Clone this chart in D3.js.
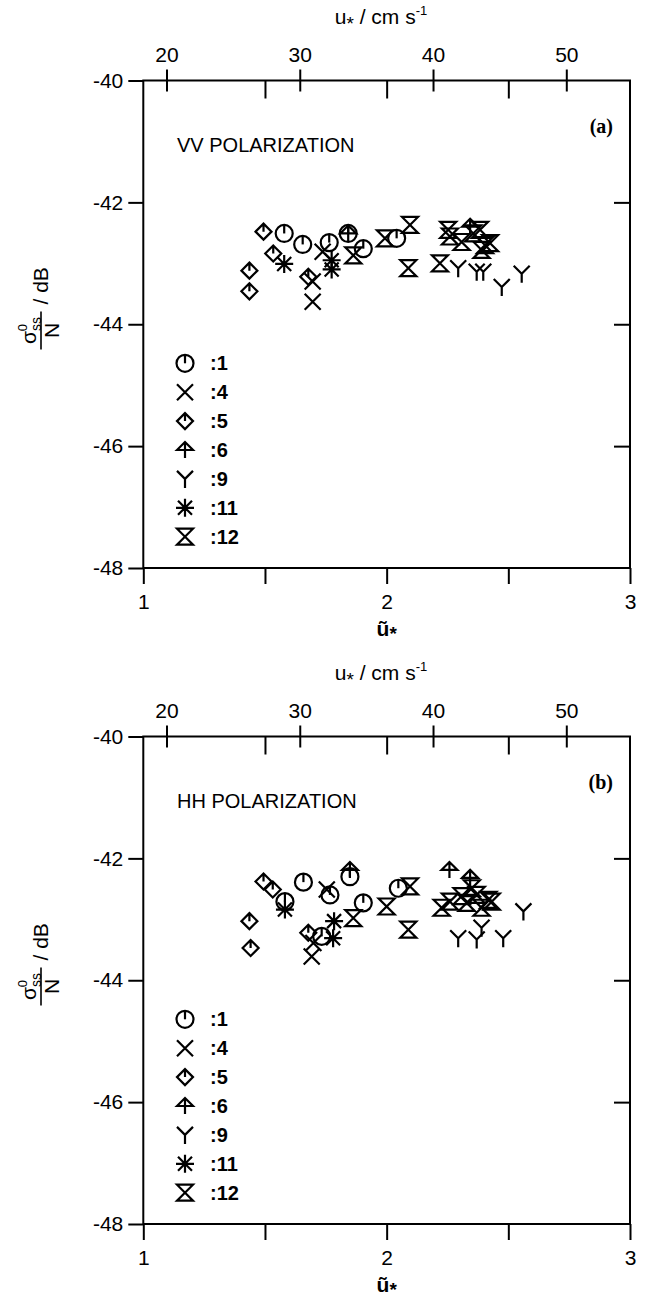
<!DOCTYPE html>
<html>
<head>
<meta charset="utf-8">
<script src="https://cdn.jsdelivr.net/npm/d3@7"></script>
<style>
  body { margin: 0; background: #fff; }
  svg text { font-family: "Liberation Sans", Arial, Helvetica, sans-serif; fill: #000; }
</style>
</head>
<body>
<svg id="chart" width="647" height="1301"></svg>
<script>
// axes
const xDomain = [1, 3];
const yDomain = [-48, -40];
const xTicks = [1, 1.5, 2, 2.5, 3];
const xTopTicks = [1.5, 2, 2.5];
const yTicks = [-40, -42, -44, -46, -48];
const yRightTicks = [-42, -44, -46];
const uStarTicks = [20, 30, 40, 50];
const uStarFactor = 18.26; // u* in cm/s for u~* = 1

// legend: symbol key, label
const legendSymbols = ["circle", "cross", "diamond", "arrow", "wye", "star", "hourglass"];
const legendLabels = [":1", ":4", ":5", ":6", ":9", ":11", ":12"];

// (a) VV polarization, [u~*, sigma/N dB]
const vvRun1 = [[1.579, -42.51], [1.655, -42.69], [1.764, -42.66], [1.842, -42.51], [1.904, -42.76], [2.041, -42.59]];
const vvRun4 = [[1.737, -42.81], [1.696, -43.30], [1.696, -43.63]];
const vvRun5 = [[1.494, -42.48], [1.534, -42.84], [1.436, -43.12], [1.436, -43.46], [1.678, -43.22]];
const vvRun6 = [[1.842, -42.51], [2.343, -42.40]];
const vvRun9 = [[2.294, -43.08], [2.370, -43.14], [2.397, -43.14], [2.473, -43.39], [2.555, -43.17]];
const vvRun11 = [[1.579, -43.01], [1.774, -42.95], [1.774, -43.10]];
const vvRun12 = [[1.863, -42.87], [1.993, -42.59], [2.096, -42.37], [2.089, -43.08], [2.219, -43.00],
  [2.253, -42.45], [2.260, -42.56], [2.308, -42.65], [2.356, -42.51], [2.384, -42.45],
  [2.404, -42.70], [2.425, -42.67], [2.390, -42.78]];

// (b) HH polarization
const hhRun1 = [[1.582, -42.71], [1.658, -42.39], [1.767, -42.60], [1.849, -42.30], [1.904, -42.73], [2.048, -42.49], [1.733, -43.28]];
const hhRun4 = [[1.754, -42.51], [1.699, -43.39], [1.692, -43.61]];
const hhRun5 = [[1.494, -42.38], [1.532, -42.51], [1.436, -43.03], [1.441, -43.47], [1.678, -43.22]];
const hhRun6 = [[1.849, -42.19], [2.258, -42.19], [2.343, -42.32]];
const hhRun9 = [[2.562, -42.87], [2.390, -43.14], [2.294, -43.31], [2.370, -43.33], [2.479, -43.31]];
const hhRun11 = [[1.582, -42.84], [1.784, -43.03], [1.780, -43.31]];
const hhRun12 = [[1.863, -42.98], [2.000, -42.79], [2.096, -42.46], [2.089, -43.17], [2.226, -42.81],
  [2.260, -42.71], [2.308, -42.62], [2.329, -42.73], [2.350, -42.49], [2.370, -42.60],
  [2.390, -42.81], [2.418, -42.68], [2.432, -42.71]];

const panels = [
  { top: 80.5, title: "VV POLARIZATION", tag: "(a)",
    series: [["circle", vvRun1], ["cross", vvRun4], ["diamond", vvRun5], ["arrow", vvRun6],
             ["wye", vvRun9], ["star", vvRun11], ["hourglass", vvRun12]] },
  { top: 736.5, title: "HH POLARIZATION", tag: "(b)",
    series: [["circle", hhRun1], ["cross", hhRun4], ["diamond", hhRun5], ["arrow", hhRun6],
             ["wye", hhRun9], ["star", hhRun11], ["hourglass", hhRun12]] }
];

const left = 143.3, right = 630, plotH = 487.5;

const symbolPaths = {
  circle: "M0,-8.5V0",
  cross: "M-8,-8L8,8M8,-8L-8,8",
  diamond: "M0,-8L8,0L0,8L-8,0ZM0,-8V0",
  arrow: "M-8,0L0,-8L8,0ZM0,-8V8",
  wye: "M0,0V9M0,0L-8,-8M0,0L8,-8",
  star: "M0,-9V9M-9,0H9M-7,-7L7,7M7,-7L-7,7",
  hourglass: "M-8,-8H8L-8,8H8Z"
};

function drawSymbol(g, type) {
  if (type === "circle") g.append("circle").attr("r", 8.5).attr("fill", "none");
  g.append("path").attr("d", symbolPaths[type]).attr("fill", "none");
  g.attr("stroke", "#000").attr("stroke-width", 2.2).attr("stroke-linejoin", "miter");
}

const svg = d3.select("#chart");

panels.forEach(p => {
  const x = d3.scaleLinear().domain(xDomain).range([left, right]);
  const y = d3.scaleLinear().domain(yDomain).range([p.top + plotH, p.top]);
  const u = d3.scaleLinear().domain(xDomain.map(d => d * uStarFactor)).range([left, right]);
  const bottom = p.top + plotH;
  const g = svg.append("g");

  const styleAxis = sel => {
    sel.select(".domain").remove();
    sel.selectAll(".tick line").attr("stroke", "#000").attr("stroke-width", 2);
    sel.selectAll(".tick text").attr("font-size", 21).attr("fill", "#000")
      .attr("font-family", "'Liberation Sans', Arial, sans-serif");
  };

  // frame
  g.append("rect").attr("x", left).attr("y", p.top).attr("width", right - left).attr("height", plotH)
    .attr("fill", "none").attr("stroke", "#000").attr("stroke-width", 2);

  g.append("g").attr("transform", `translate(${left},0)`)
    .call(d3.axisLeft(y).tickValues(yTicks).tickSize(15).tickPadding(5).tickFormat(d => String(d)))
    .call(styleAxis);

  g.append("g").attr("transform", `translate(${right},0)`)
    .call(d3.axisRight(y).tickValues(yRightTicks).tickSize(-16).tickFormat(""))
    .call(styleAxis);

  g.append("g").attr("transform", `translate(0,${bottom})`)
    .call(d3.axisBottom(x).tickValues(xTicks).tickSize(16).tickPadding(10)
      .tickFormat(d => Number.isInteger(d) ? String(d) : ""))
    .call(styleAxis);

  g.append("g").attr("transform", `translate(0,${p.top})`)
    .call(d3.axisTop(x).tickValues(xTopTicks).tickSize(-18).tickFormat(""))
    .call(styleAxis);

  // u* axis on top, ticks crossing the frame
  g.append("g").attr("transform", `translate(0,${p.top})`)
    .call(d3.axisTop(u).tickValues(uStarTicks).tickSize(11).tickPadding(8).tickFormat(d => String(d)))
    .call(styleAxis);
  g.append("g").attr("transform", `translate(0,${p.top})`)
    .call(d3.axisTop(u).tickValues(uStarTicks).tickSize(-11).tickFormat(""))
    .call(styleAxis);

  // axis titles
  const ut = g.append("text").attr("x", 381).attr("y", p.top - 57).attr("text-anchor", "middle")
    .attr("font-size", 21);
  ut.append("tspan").text("u");
  ut.append("tspan").text("*").attr("dy", 6).attr("font-size", 19);
  ut.append("tspan").text(" / cm s").attr("dy", -6);
  ut.append("tspan").text("-1").attr("dy", -9).attr("font-size", 13);

  const bt = g.append("text").attr("x", 386.7).attr("y", bottom + 68).attr("text-anchor", "middle")
    .attr("font-size", 21).attr("font-weight", "bold");
  bt.append("tspan").text("ũ");
  bt.append("tspan").text("*").attr("dy", 4).attr("font-size", 19);

  // y label: fraction sigma0ss / N, then "/ dB"
  const yl = g.append("g").attr("transform", `translate(40,${p.top + 250}) rotate(-90)`);
  const num = yl.append("text").attr("x", 0).attr("y", -4).attr("text-anchor", "middle").attr("font-size", 21);
  num.append("tspan").text("σ");
  num.append("tspan").text("0").attr("font-size", 13).attr("dy", -9);
  num.append("tspan").text("ss").attr("font-size", 14).attr("dx", -7).attr("dy", 14);
  yl.append("line").attr("x1", -19).attr("x2", 19).attr("y1", 1).attr("y2", 1)
    .attr("stroke", "#000").attr("stroke-width", 1.6);
  yl.append("text").attr("x", 0).attr("y", 19).attr("text-anchor", "middle").attr("font-size", 21).text("N");
  yl.append("text").attr("x", 26).attr("y", 8).attr("font-size", 21).text("/ dB");

  g.append("text").attr("x", 177).attr("y", p.top + 71.5).attr("font-size", 20).text(p.title);
  g.append("text").attr("x", 613).attr("y", p.top + 52.5).attr("text-anchor", "end")
    .attr("font-size", 20).attr("font-weight", "bold")
    .style("font-family", "'Liberation Serif', 'Times New Roman', serif").text(p.tag);

  // data markers
  p.series.forEach(([type, pts]) => {
    g.selectAll(null).data(pts).enter().append("g")
      .attr("transform", d => `translate(${x(d[0])},${y(d[1])})`)
      .each(function () { drawSymbol(d3.select(this), type); });
  });

  // legend
  const lg = g.append("g").attr("transform", `translate(185,${p.top + 282.8})`);
  legendSymbols.forEach((s, i) => {
    const row = lg.append("g").attr("transform", `translate(0,${i * 28.9})`);
    drawSymbol(row.append("g"), s);
    row.append("text").attr("x", 25).attr("y", 7).attr("font-size", 20).attr("font-weight", "bold")
      .text(legendLabels[i]);
  });
});
</script>
</body>
</html>
